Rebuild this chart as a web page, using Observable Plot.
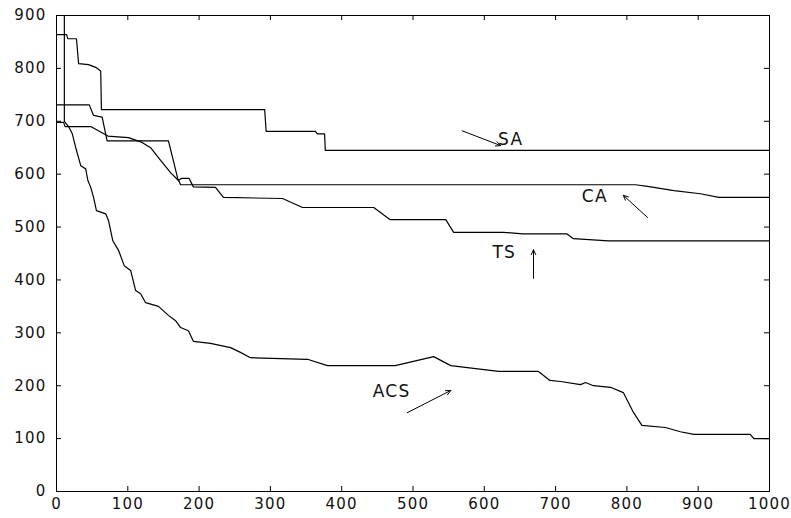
<!DOCTYPE html>
<html>
<head>
<meta charset="utf-8">
<script src="https://cdn.jsdelivr.net/npm/d3@7"></script>
<script src="https://cdn.jsdelivr.net/npm/@observablehq/plot@0.6"></script>
<style>
  body { margin: 0; background: #fff; }
  svg { font-family: "DejaVu Sans", sans-serif; }
</style>
</head>
<body>
<div id="chart"></div>
<script>
// Series: SA
const saX = [0, 14, 16, 28, 31, 45, 55, 62, 63, 292, 294, 363, 366, 376, 377, 1000];
const saY = [864, 864, 856, 856, 809, 807, 802, 795, 722, 722, 681, 681, 676, 676, 645, 645];
// Series: CA
const caX = [0, 46, 52, 64, 71, 157, 170, 174, 812, 829, 866, 903, 929, 1000];
const caY = [731, 731, 711, 708, 663, 663, 592, 580, 580, 577, 569, 563, 556, 556];
// Series: TS
const tsX = [0, 10, 12, 48, 72, 101, 120, 132, 146, 160, 171, 175, 186, 192, 223, 234, 317, 345, 445, 468, 546, 557, 627, 654, 716, 725, 774, 1000];
const tsY = [698, 698, 690, 690, 672, 669, 660, 650, 626, 603, 588, 592, 592, 576, 575, 556, 554, 537, 537, 514, 514, 490, 490, 487, 487, 478, 474, 474];
// Series: ACS
const acsX = [11, 11, 17, 22, 27, 34, 41, 44, 48, 52, 56, 69, 73, 79, 87, 95, 104, 111, 118, 125, 143, 157, 167, 174, 185, 192, 216, 244, 258, 272, 352, 380, 475, 529, 553, 620, 676, 692, 707, 735, 742, 753, 777, 795, 809, 821, 854, 875, 894, 973, 978, 1000];
const acsY = [950, 700, 690, 677, 650, 616, 610, 588, 575, 556, 531, 525, 512, 474, 456, 427, 418, 380, 374, 357, 350, 333, 323, 310, 304, 284, 280, 272, 263, 253, 250, 238, 238, 255, 238, 227, 227, 210, 208, 202, 206, 200, 197, 187, 150, 125, 121, 113, 108, 108, 100, 100];

// Annotations
const labelText = ["SA", "CA", "TS", "ACS"];
const labelX = [637, 755, 628, 470];
const labelY = [665, 558, 452, 189];
const arrowX1 = [569, 829, 669, 492];
const arrowY1 = [682, 518, 403, 149];
const arrowX2 = [623, 795, 669, 553];
const arrowY2 = [654, 560, 457, 191];

// Ticks
const xTicks = [0, 100, 200, 300, 400, 500, 600, 700, 800, 900, 1000];
const yTicks = [0, 100, 200, 300, 400, 500, 600, 700, 800, 900];

const toRows = (xs, ys, name) => xs.map((x, i) => ({x, y: ys[i], series: name}));
const lines = [
  ...toRows(saX, saY, "SA"),
  ...toRows(caX, caY, "CA"),
  ...toRows(tsX, tsY, "TS"),
  ...toRows(acsX, acsY, "ACS")
];
const labels = labelText.map((t, i) => ({t, x: labelX[i], y: labelY[i]}));
const arrows = arrowX1.map((x1, i) => ({x1, y1: arrowY1[i], x2: arrowX2[i], y2: arrowY2[i]}));

const W = 791, H = 518, ML = 56, MR = 22, MT = 15, MB = 27;
const frameW = W - ML - MR, frameH = H - MT - MB, TL = 5;

const chart = Plot.plot({
  width: W,
  height: H,
  marginLeft: ML,
  marginRight: MR,
  marginTop: MT,
  marginBottom: MB,
  style: {background: "#fff", color: "#000", fontFamily: "DejaVu Sans, sans-serif", fontSize: "15px"},
  x: {domain: [0, 1000]},
  y: {domain: [0, 900]},
  marks: [
    Plot.frame({stroke: "#000", strokeWidth: 1}),
    // tick labels
    Plot.axisX({anchor: "bottom", ticks: xTicks, tickFormat: d => String(d), tickSize: 0, tickPadding: 7, label: null, fontSize: 15, fill: "#111"}),
    Plot.axisY({anchor: "left", ticks: yTicks, tickFormat: d => String(d), tickSize: 0, tickPadding: 10, label: null, fontSize: 15, fill: "#111"}),
    // inward ticks on all four sides
    Plot.tickX(xTicks, {x: d => d, insetTop: frameH - TL, stroke: "#000"}),
    Plot.tickX(xTicks, {x: d => d, insetBottom: frameH - TL, stroke: "#000"}),
    Plot.tickY(yTicks, {y: d => d, insetRight: frameW - TL, stroke: "#000"}),
    Plot.tickY(yTicks, {y: d => d, insetLeft: frameW - TL, stroke: "#000"}),
    Plot.line(lines, {x: "x", y: "y", z: "series", stroke: "#000", strokeWidth: 1.2, clip: true}),
    Plot.arrow(arrows, {x1: "x1", y1: "y1", x2: "x2", y2: "y2", stroke: "#000", strokeWidth: 1, headLength: 8, headAngle: 50}),
    Plot.text(labels, {x: "x", y: "y", text: "t", fontSize: 17, fill: "#111"})
  ]
});
chart.querySelectorAll("text").forEach(t => t.style.letterSpacing = "1.2px");
document.getElementById("chart").appendChild(chart);
</script>
</body>
</html>
